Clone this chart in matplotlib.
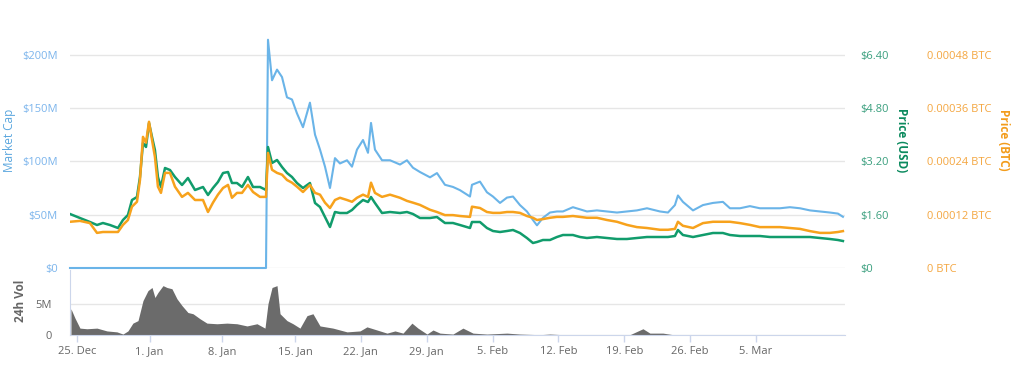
import numpy as np
import matplotlib.pyplot as plt

plt.rcParams['font.family'] = ['Open Sans', 'DejaVu Sans']

# ----------------------------
# Data, days since 25 Dec 2017
# ----------------------------
days = [-0.67, 0.29, 1.25, 1.93, 2.50, 3.18, 3.95, 4.43, 4.91, 5.30,
        5.78, 6.07, 6.36, 6.65, 6.94, 7.23, 7.51, 7.80, 8.09, 8.48,
        8.96, 9.44, 10.12, 10.69, 11.37, 12.14, 12.62, 13.10, 13.58, 14.07,
        14.55, 14.93, 15.41, 15.90, 16.47, 16.96, 17.63, 18.21, 18.40, 18.79,
        19.27, 19.75, 20.23, 20.71, 21.21, 21.85, 22.59, 23.13, 23.66, 24.19,
        24.72, 25.25, 25.78, 26.53, 27.06, 27.59, 28.23, 28.76, 29.08, 29.50,
        30.25, 31.10, 32.16, 32.90, 33.54, 34.28, 35.35, 36.09, 36.94, 37.79,
        38.53, 39.60, 39.81, 40.66, 41.40, 42.04, 42.79, 43.53, 44.17, 44.91,
        45.65, 46.29, 46.72, 47.35, 48.10, 48.84, 49.48, 50.54, 51.29, 52.03,
        53.09, 54.16, 55.22, 56.28, 57.34, 58.41, 59.79, 60.64, 61.38, 61.70,
        62.23, 63.30, 64.36, 65.42, 66.48, 67.23, 68.29, 69.35, 70.41, 71.48,
        72.54, 73.60, 74.67, 75.73, 76.79, 77.85, 78.70, 79.23]

price_usd = [1.62, 1.50, 1.38, 1.29, 1.35, 1.29, 1.20, 1.44, 1.59, 2.04,
             2.13, 2.73, 3.75, 3.63, 4.35, 3.93, 3.54, 2.73, 2.43, 3.00,
             2.94, 2.73, 2.49, 2.70, 2.34, 2.43, 2.19, 2.40, 2.58, 2.85,
             2.88, 2.55, 2.55, 2.43, 2.73, 2.43, 2.43, 2.34, 3.63, 3.15,
             3.24, 3.03, 2.85, 2.73, 2.55, 2.40, 2.55, 1.95, 1.83, 1.53,
             1.23, 1.68, 1.65, 1.65, 1.74, 1.89, 2.04, 1.98, 2.13, 1.95,
             1.65, 1.68, 1.65, 1.68, 1.62, 1.50, 1.50, 1.53, 1.35, 1.35,
             1.29, 1.20, 1.38, 1.38, 1.20, 1.11, 1.08, 1.11, 1.14, 1.05,
             0.90, 0.75, 0.78, 0.84, 0.84, 0.93, 0.99, 0.99, 0.93, 0.90,
             0.93, 0.90, 0.87, 0.87, 0.90, 0.93, 0.93, 0.93, 0.96, 1.14,
             0.99, 0.93, 0.99, 1.05, 1.05, 0.99, 0.96, 0.96, 0.96, 0.93,
             0.93, 0.93, 0.93, 0.93, 0.90, 0.87, 0.84, 0.81]

# in units of 1e-5 BTC
price_btc_e5 = [10.4, 10.6, 10.1, 7.9, 8.1, 8.1, 8.1, 9.7, 10.8, 13.8,
                14.9, 19.8, 29.5, 28.2, 32.9, 28.8, 25.0, 18.3, 16.9, 21.4,
                21.4, 18.3, 16.0, 16.9, 15.3, 15.3, 12.6, 14.7, 16.5, 18.0,
                18.7, 15.8, 16.9, 16.9, 18.7, 17.1, 16.0, 16.0, 25.9, 22.1,
                21.4, 21.0, 19.8, 19.2, 18.3, 17.1, 18.7, 16.9, 16.5, 14.7,
                13.5, 15.3, 15.8, 15.3, 14.9, 15.8, 16.5, 16.0, 19.2, 16.9,
                16.0, 16.5, 15.8, 15.1, 14.7, 14.2, 13.1, 12.6, 11.9, 11.9,
                11.7, 11.5, 13.8, 13.5, 12.6, 12.4, 12.4, 12.6, 12.6, 12.4,
                11.7, 11.3, 10.8, 11.0, 11.3, 11.5, 11.5, 11.7, 11.5, 11.3,
                11.3, 10.8, 10.4, 9.7, 9.2, 9.0, 8.6, 8.6, 8.8, 10.4,
                9.5, 9.0, 10.1, 10.4, 10.4, 10.4, 10.1, 9.7, 9.2, 9.2,
                9.2, 9.0, 8.8, 8.3, 7.9, 7.9, 8.1, 8.3]

# market cap in $M (no data before 12 Jan -> drawn at 0)
market_cap = [0] * 38 + [
    214, 176, 186, 179, 160, 158, 145, 132, 155, 125,
    111, 95, 75, 103, 98, 101, 95, 111, 120, 108,
    136, 111, 101, 101, 97, 101, 94, 90, 85, 89,
    78, 76, 73, 67, 78, 81, 71, 67, 61, 66,
    67, 59, 53, 45, 40, 47, 52, 53, 53, 57,
    55, 53, 54, 53, 52, 53, 54, 56, 53, 52,
    59, 68, 62, 54, 59, 61, 62, 56, 56, 58,
    56, 56, 56, 57, 56, 54, 53, 52, 51, 48]

vol_days = [-0.58, -0.19, 0.29, 0.96, 1.93, 2.89, 3.85, 4.43, 4.91, 5.39,
            5.88, 6.36, 6.84, 7.23, 7.51, 7.80, 8.29, 8.67, 9.15, 9.63,
            10.12, 10.69, 11.18, 11.85, 12.52, 13.49, 14.45, 15.41, 16.38, 17.34,
            18.11, 18.40, 18.79, 19.27, 19.56, 20.23, 20.81, 21.53, 22.28, 22.91,
            23.66, 25.04, 26.53, 27.91, 28.65, 29.29, 30.78, 31.63, 32.48, 33.43,
            34.07, 35.03, 35.67, 36.41, 37.79, 38.85, 39.92, 41.40, 43.53, 44.91,
            47.04, 48.10, 49.48, 53.09, 56.60, 57.98, 58.72, 60.11, 61.17, 65.42,
            70.73, 73.28, 79.23]

# 24h volume in $M
volume = [4.2, 2.7, 1.1, 1.0, 1.1, 0.65, 0.5, 0.15, 0.65, 1.9,
          2.3, 5.5, 7.1, 7.6, 6.0, 6.8, 7.9, 7.6, 7.4, 5.8,
          4.7, 3.6, 3.4, 2.6, 1.9, 1.8, 1.9, 1.8, 1.45, 1.8,
          1.1, 5.0, 7.6, 7.9, 3.4, 2.3, 1.8, 1.1, 3.1, 3.4,
          1.45, 1.1, 0.5, 0.65, 1.3, 1.0, 0.3, 0.65, 0.3, 1.9,
          1.1, 0.15, 0.8, 0.3, 0.15, 1.1, 0.3, 0.15, 0.3, 0.15,
          0.05, 0.15, 0.05, 0.08, 0.05, 1.0, 0.3, 0.3, 0.05, 0.05,
          0.08, 0.05, 0.08]

date_ticks = [0, 7, 14, 21, 28, 35, 42, 49, 56, 63, 70]
date_labels = ['25. Dec', '1. Jan', '8. Jan', '15. Jan', '22. Jan', '29. Jan',
               '5. Feb', '12. Feb', '19. Feb', '26. Feb', '5. Mar']

mcap_ticks = [0, 50, 100, 150, 200]
mcap_labels = ['$0', '$50M', '$100M', '$150M', '$200M']
usd_ticks = [0, 1.6, 3.2, 4.8, 6.4]
usd_labels = ['$0', '$1.60', '$3.20', '$4.80', '$6.40']
btc_ticks = [0, 0.00012, 0.00024, 0.00036, 0.00048]
btc_labels = ['0 BTC', '0.00012 BTC', '0.00024 BTC', '0.00036 BTC', '0.00048 BTC']
vol_ticks = [0, 5]
vol_labels = ['0', '5M']

# ----------------------------
# Colours
# ----------------------------
c_blue = '#6ab4e8'
c_green = '#119c6c'
c_orange = '#f7a21c'
c_grid = '#e6e6e6'
c_text = '#666666'

# ordinal-like time axis: first three weeks are a bit wider
knot_days = [-5, 0, 21, 70, 85]
knot_pos = [25.1, 77, 295, 756, 897.2]


def fwd(d):
    return np.interp(d, knot_days, knot_pos)


def inv(p):
    return np.interp(p, knot_pos, knot_days)


W, H = 1024, 369
fig = plt.figure(figsize=(W / 100, H / 100), dpi=100)
ax = fig.add_axes([70 / W, 1 - 268 / H, 775 / W, (268 - 12) / H])
axv = fig.add_axes([70 / W, 1 - 335 / H, 775 / W, (335 - 270) / H], sharex=ax)
ax.set_xscale('function', functions=(fwd, inv))
ax.set_xlim(-0.67, 79.45)

# main panel
ax.plot(days, market_cap, color=c_blue, lw=1.5, clip_on=False, zorder=3)
ax.set_ylim(0, 240)
ax.set_yticks(mcap_ticks)
ax.set_yticklabels(mcap_labels)
ax.tick_params(axis='y', length=0, pad=9, labelsize=8, labelcolor='#7cb5ec')
ax.tick_params(axis='x', bottom=False, labelbottom=False)
ax.grid(axis='y', color=c_grid, lw=1)
ax.set_axisbelow(True)
for s in ax.spines.values():
    s.set_visible(False)
ax.set_ylabel('Market Cap', color='#5aa6de', fontsize=8.5, ha='center', va='center')
ax.yaxis.set_label_coords(-60 / 775, 0.5)

ax_usd = ax.twinx()
ax_usd.plot(days, price_usd, color=c_green, lw=1.8)
ax_usd.set_ylim(0, 7.68)
ax_usd.set_yticks(usd_ticks)
ax_usd.set_yticklabels(usd_labels)
ax_usd.tick_params(axis='y', length=0, pad=11, labelsize=8, labelcolor='#3a9f7e')
ax_usd.set_ylabel('Price (USD)', color='#0b8a5e', fontsize=8.5, fontweight='bold',
                  rotation=270, ha='center', va='center')
ax_usd.yaxis.set_label_coords(832 / 775, 0.5)

ax_btc = ax.twinx()
ax_btc.plot(days, np.array(price_btc_e5) * 1e-5, color=c_orange, lw=1.8)
ax_btc.set_ylim(0, 0.000576)
ax_btc.set_yticks(btc_ticks)
ax_btc.set_yticklabels(btc_labels)
ax_btc.tick_params(axis='y', length=0, pad=59, labelsize=8, labelcolor='#f4a640')
ax_btc.set_ylabel('Price (BTC)', color='#f39c1b', fontsize=8.5, fontweight='bold',
                  rotation=270, ha='center', va='center')
ax_btc.yaxis.set_label_coords(934 / 775, 0.5)
for a in (ax_usd, ax_btc):
    for s in a.spines.values():
        s.set_visible(False)

# volume panel
axv.fill_between(vol_days, volume, color='#6b6b6b', lw=0)
axv.set_ylim(0, 10.4)
axv.set_yticks(vol_ticks)
axv.set_yticklabels(vol_labels)
axv.tick_params(axis='y', length=0, pad=13, labelsize=8, labelcolor=c_text)
axv.grid(axis='y', color=c_grid, lw=1)
axv.set_axisbelow(True)
axv.set_xticks(date_ticks)
axv.set_xticklabels(date_labels)
axv.tick_params(axis='x', length=5, width=1, color='#ccd6eb', pad=3,
                labelsize=8, labelcolor=c_text)
for k in ('top', 'right'):
    axv.spines[k].set_visible(False)
axv.spines['left'].set_color('#ccd6eb')
axv.spines['bottom'].set_color('#ccd6eb')
axv.set_ylabel('24h Vol', color=c_text, fontsize=8.5, fontweight='bold',
               ha='center', va='center')
axv.yaxis.set_label_coords(-50 / 775, 0.52)

fig.savefig('out.png', dpi=100)
